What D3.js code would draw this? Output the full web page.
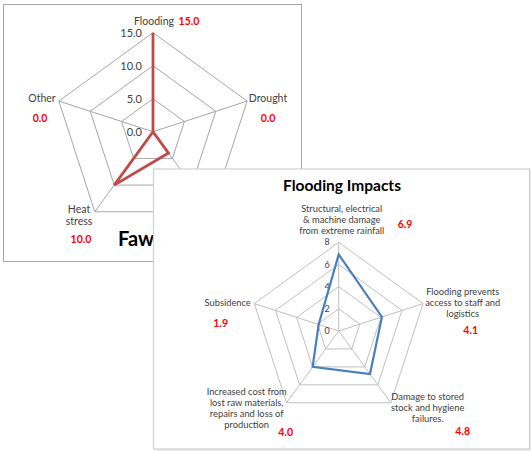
<!DOCTYPE html>
<html>
<head>
<meta charset="utf-8">
<script src="https://cdn.jsdelivr.net/npm/d3@7"></script>
<style>
  body { margin: 0; background: #fff; }
  svg { display: block; font-family: Lato, "Open Sans", sans-serif; }
</style>
</head>
<body>
<svg id="chart" width="531" height="453"></svg>
<script>
// back chart data (partly hidden)
const backCategories = [["Flooding"], ["Drought"], ["Storms"], ["Heat", "stress"], ["Other"]];
const backValues = [15, 0, 4, 10, 0];
const backTicks = [0, 5, 10, 15];

// front chart data
const frontTitle = "Flooding Impacts";
const frontCategories = [
  ["Structural, electrical", "& machine damage", "from extreme rainfall"],
  ["Flooding prevents", "access to staff and", "logistics"],
  ["Damage to stored", "stock and hygiene", "failures."],
  ["Increased cost from", "lost raw materials,", "repairs and loss of", "production"],
  ["Subsidence"]
];
const frontValues = [6.9, 4.1, 4.8, 4.0, 1.9];
const frontTicks = [0, 2, 4, 6, 8];

const svg = d3.select("#chart");

/**
 * RADAR
 */
function drawRadar(g, cfg) {
  const n = cfg.values.length;
  const r = d3.scaleLinear().domain([0, d3.max(cfg.ticks)]).range([0, cfg.radius]);
  const ang = i => i * 2 * Math.PI / n;
  const pt = (i, v) => [cfg.cx + r(v) * Math.sin(ang(i)), cfg.cy - r(v) * Math.cos(ang(i))];
  const line = d3.line().curve(d3.curveLinearClosed);

  // grid rings
  g.selectAll(".ring").data(cfg.ticks.filter(t => t > 0)).enter()
    .append("path")
    .attr("d", t => line(d3.range(n).map(i => pt(i, t))))
    .attr("fill", "none").attr("stroke", cfg.grid).attr("stroke-width", 1);

  // spokes
  g.selectAll(".spoke").data(d3.range(n)).enter()
    .append("line")
    .attr("x1", cfg.cx).attr("y1", cfg.cy)
    .attr("x2", i => pt(i, d3.max(cfg.ticks))[0])
    .attr("y2", i => pt(i, d3.max(cfg.ticks))[1])
    .attr("stroke", cfg.grid).attr("stroke-width", 1);

  // tick labels
  g.selectAll(".tick").data(cfg.ticks).enter()
    .append("text")
    .attr("x", cfg.tickX)
    .attr("y", t => cfg.cy - r(t) + cfg.tickSize * 0.35)
    .attr("text-anchor", cfg.tickAnchor)
    .attr("font-size", cfg.tickSize).attr("fill", "#404040")
    .text(cfg.tickFmt);

  // series
  g.append("path")
    .attr("d", line(cfg.values.map((v, i) => pt(i, v))))
    .attr("fill", "none").attr("stroke", cfg.color)
    .attr("stroke-width", cfg.width).attr("stroke-linejoin", "miter");

  // category labels + values
  cfg.categories.forEach((lines, i) => {
    const o = cfg.labelPos[i];
    const t = g.append("text")
      .attr("text-anchor", "middle")
      .attr("font-size", cfg.labelSize).attr("fill", "#404040");
    lines.forEach((s, k) => {
      t.append("tspan").attr("x", o[0]).attr("y", o[1] + k * cfg.lineH + cfg.labelSize * 0.35).text(s);
    });
    g.append("text")
      .attr("x", o[2]).attr("y", o[3] + cfg.valueSize * 0.35)
      .attr("text-anchor", "middle")
      .attr("font-size", cfg.valueSize).attr("font-weight", "bold")
      .attr("fill", "#ff0000")
      .text(cfg.values[i].toFixed(1));
  });
}

// back panel
const back = svg.append("g");
back.append("rect").attr("x", 3.5).attr("y", 4.5).attr("width", 298).attr("height", 257)
  .attr("fill", "#fff").attr("stroke", "#a6a6a6");
drawRadar(back, {
  values: backValues, ticks: backTicks, categories: backCategories,
  cx: 153, cy: 131.7, radius: 99, grid: "#a6a6a6",
  color: "#be4b48", width: 2.8,
  tickX: 142, tickAnchor: "end", tickSize: 11, tickFmt: t => t.toFixed(1),
  labelSize: 10.5, valueSize: 10.5, lineH: 12.5,
  labelPos: [[154, 21, 189, 21], [268, 98, 268, 118], [215, 215, 240, 240],
             [79, 209, 81, 239], [42, 98, 40, 118]]
});
back.append("text").attr("x", 118).attr("y", 246)
  .attr("font-size", 20).attr("font-weight", "bold").attr("fill", "#000")
  .text("Fawley Risks");

// front panel
const front = svg.append("g");
front.append("rect").attr("x", 155).attr("y", 171).attr("width", 376).attr("height", 280)
  .attr("fill", "#ececec");
front.append("rect").attr("x", 153.5).attr("y", 169).attr("width", 376).attr("height", 280)
  .attr("fill", "#fff").attr("stroke", "#cfcfcf").attr("stroke-width", 1.2);
front.append("text").attr("x", 342).attr("y", 191)
  .attr("text-anchor", "middle")
  .attr("font-size", 15.5).attr("font-weight", "bold").attr("fill", "#000")
  .text(frontTitle);
drawRadar(front, {
  values: frontValues, ticks: frontTicks, categories: frontCategories,
  cx: 338.7, cy: 331, radius: 88.7, grid: "#bfbfbf",
  color: "#4a7ebb", width: 2.2,
  tickX: 327, tickAnchor: "middle", tickSize: 9, tickFmt: t => t,
  labelSize: 9.3, valueSize: 10.5, lineH: 11,
  labelPos: [[341.7, 209, 405, 224], [462.7, 292, 470.7, 330], [427.7, 397, 462.7, 431],
             [246.7, 392, 285.7, 432], [227.7, 303, 220.7, 323]]
});
</script>
</body>
</html>
